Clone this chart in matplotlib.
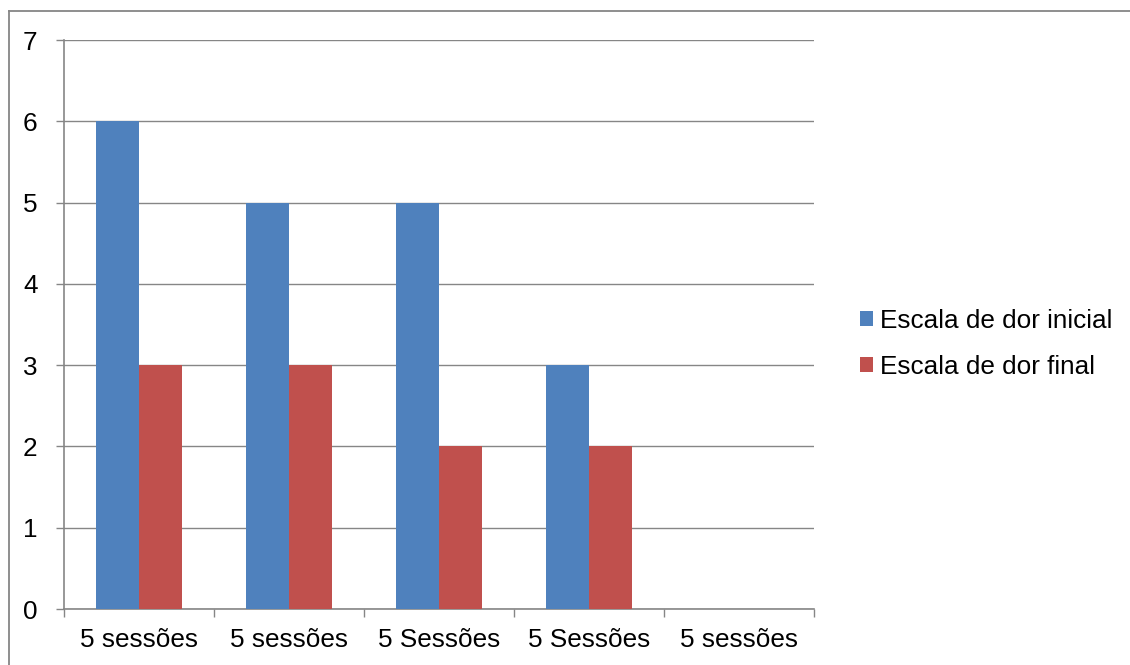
import matplotlib

matplotlib.use("Agg")

import matplotlib.pyplot as plt
import numpy as np
from matplotlib.lines import Line2D

categories = ["5 sessões", "5 sessões", "5 Sessões", "5 Sessões", "5 sessões"]
dor_inicial = [6, 5, 5, 3, 0]
dor_final = [3, 3, 2, 2, 0]
series_names = ["Escala de dor inicial", "Escala de dor final"]

BLUE = "#4f81bd"
RED = "#c0504d"
GRAY = "#868686"
FS = 18.8

plt.rcParams["font.family"] = ["Liberation Sans", "DejaVu Sans"]

fig = plt.figure(figsize=(11.3, 6.65), dpi=100, facecolor="white")
ax = fig.add_axes([0.0566, 0.0842, 0.6638, 0.8556])

x = np.arange(len(categories))
width = 0.287
b1 = ax.bar(x - width / 2, dor_inicial, width, color=BLUE, zorder=3, linewidth=0)
b2 = ax.bar(x + width / 2, dor_final, width, color=RED, zorder=3, linewidth=0)

ax.set_xlim(-0.5, len(categories) - 0.5)
ax.set_ylim(0, 7)
ax.set_yticks(range(0, 8))
ax.grid(axis="y", color=GRAY, linewidth=1.0, zorder=0)
ax.set_axisbelow(True)

for side in ("top", "right"):
    ax.spines[side].set_visible(False)
for side in ("left", "bottom"):
    ax.spines[side].set_color(GRAY)
    ax.spines[side].set_linewidth(1.2)

ax.tick_params(axis="y", length=6, width=1.0, color=GRAY, labelsize=FS, pad=13)
ax.set_xticks(np.arange(-0.5, len(categories), 1.0))
ax.set_xticklabels([])
ax.set_xticks(x, minor=True)
ax.set_xticklabels(categories, minor=True, fontsize=FS)
ax.tick_params(axis="x", which="major", length=6, width=1.0, color=GRAY, direction="out")
ax.tick_params(axis="x", which="minor", length=0, pad=14)

fig.legend(
    [b1, b2],
    series_names,
    loc="center left",
    bbox_to_anchor=(0.7405, 0.483),
    frameon=False,
    fontsize=FS,
    handlelength=0.5,
    handleheight=0.5,
    handletextpad=0.27,
    labelspacing=0.82,
)

# outer chart border (top and left edges visible)
fig.add_artist(Line2D([8.5 / 1130, 8.5 / 1130], [0, 1 - 11 / 665], transform=fig.transFigure, color=GRAY, linewidth=1.3))
fig.add_artist(Line2D([8.5 / 1130, 1], [1 - 11 / 665, 1 - 11 / 665], transform=fig.transFigure, color=GRAY, linewidth=1.3))

fig.savefig("out.png", dpi=100, facecolor="white")
